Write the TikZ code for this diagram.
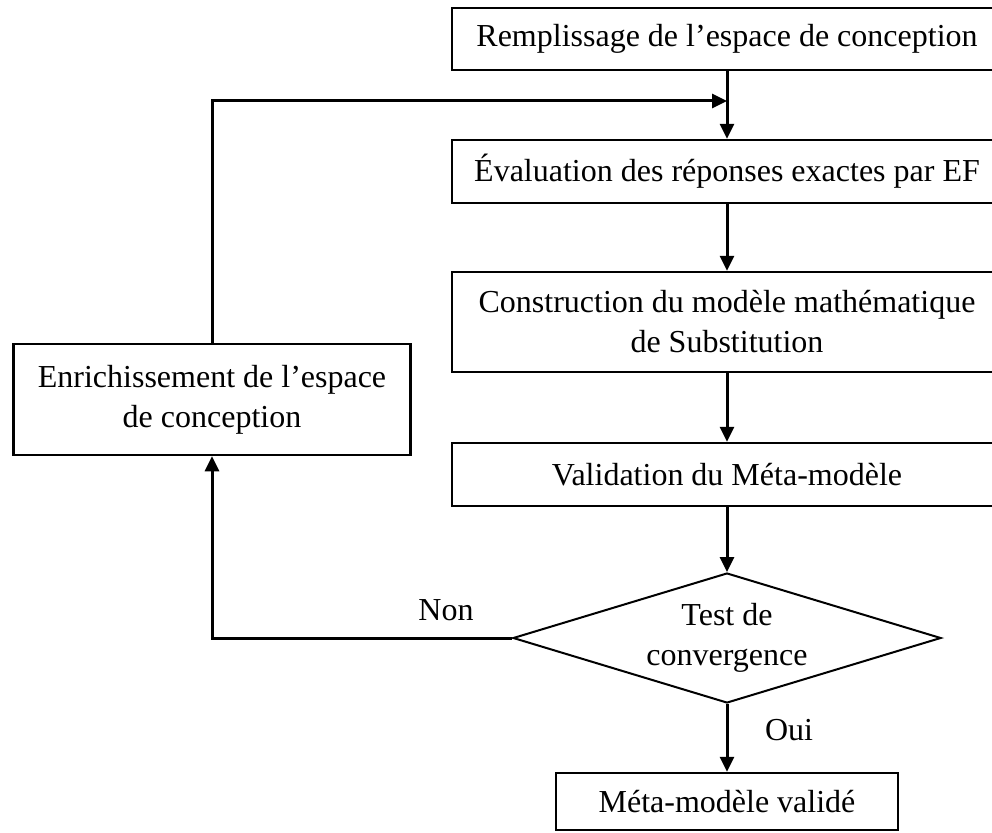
\documentclass[tikz,border=0pt]{standalone}
\usepackage{fontspec}
\setmainfont{Liberation Serif}
\usetikzlibrary{shapes.geometric,arrows.meta}
\begin{document}
\begin{tikzpicture}[x=1pt,y=-1pt,
  txt/.style={font=\fontsize{32}{40}\selectfont},
  box/.style={txt,draw,line width=2.5pt,rectangle,inner sep=0pt,align=center},
  dec/.style={txt,draw,line width=2pt,diamond,aspect=3.3,inner sep=0pt,align=center,minimum width=428pt,minimum height=130pt},
  conn/.style={line width=3pt,-{Triangle[length=15pt,width=14pt]}}]
\useasboundingbox (0,0) rectangle (992,832);
\clip (0,0) rectangle (992,832);
\node[box,minimum width=550pt,minimum height=62pt] (b1) at (727,39) {Remplissage de l’espace de conception};
\node[box,minimum width=550pt,minimum height=63pt] (b2) at (727,171.5) {Évaluation des réponses exactes par EF};
\node[box,minimum width=550pt,minimum height=100pt] (b3) at (727,322) {Construction du modèle mathématique\\de Substitution};
\node[box,minimum width=550pt,minimum height=63pt] (b4) at (727,474.5) {Validation du Méta-modèle};
\node[dec] (d) at (727,638) {Test de\\convergence};
\node[box,minimum width=342pt,minimum height=57pt] (b5) at (727,801.5) {Méta-modèle validé};
\node[box,minimum width=397pt,minimum height=111pt] (e) at (212,399.5) {Enrichissement de l’espace\\de conception};
\coordinate (j) at (727,101);
\draw[conn] (b1) -- (b2);
\draw[conn] (b2) -- (b3);
\draw[conn] (b3) -- (b4);
\draw[conn] (b4) -- (d);
\draw[conn] (d) -- (b5);
\draw[conn] (d.west) -| (e.south);
\draw[conn] (e.north) |- (j);
\node[txt] (non) at (446,610) {Non};
\node[txt] (oui) at (789,730) {Oui};
\end{tikzpicture}
\end{document}
